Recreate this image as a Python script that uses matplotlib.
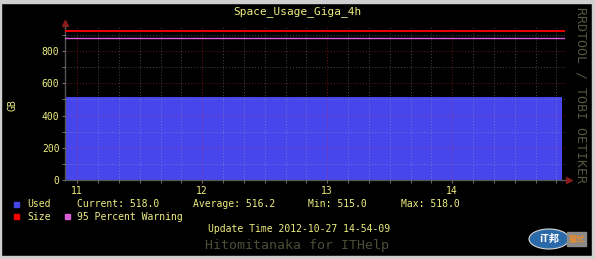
import matplotlib
matplotlib.use("Agg")
import matplotlib.pyplot as plt
from matplotlib.patches import Rectangle, Ellipse
import numpy as np

# ---- data ----
title = "Space_Usage_Giga_4h"
start_time = "10:54:09"
used_times = ["10:54:09", "11:43:00", "14:52:40"]
used_values = [515.0, 518.0, 518.0]
size_value = 927.0
warning_value = 881.0
x_tick_hours = [11, 12, 13, 14]
x_tick_labels = ["11", "12", "13", "14"]
y_ticks = [0, 200, 400, 600, 800]
legend_stats = {"Current": "518.0", "Average": "516.2", "Min": "515.0", "Max": "518.0"}
update_text = "Update Time 2012-10-27 14-54-09"
footer_text = "Hitomitanaka for ITHelp"
watermark = "RRDTOOL / TOBI OETIKER"


def to_hours(s):
    h, m, sec = [int(v) for v in s.split(":")]
    return h + m / 60 + sec / 3600


t = np.array([to_hours(s) for s in used_times])
t0 = to_hours(start_time)

W, H = 595, 259
BLUE = "#4646EC"
RED = "#FF0000"
MAG = "#D55ED5"
YEL = "#EEEE80"
MONO = "DejaVu Sans Mono"

fig = plt.figure(figsize=(W / 100, H / 100), dpi=100, facecolor="black")


def fx(x):
    return x / W


def fy(y):
    return 1 - y / H


ax = fig.add_axes([fx(65), fy(180), 500 / W, 153 / H])
ax.set_facecolor("black")
ax.fill_between(t, used_values, step="post", color=BLUE, lw=0, zorder=1)
ax.axhline(size_value, color=RED, lw=1.3, zorder=3)
ax.axhline(warning_value, color=MAG, lw=1.0, zorder=3)

ax.set_xlim(t0, t0 + 4)
ax.set_ylim(0, 950)
ax.set_xticks(x_tick_hours)
ax.set_xticklabels(x_tick_labels)
ax.set_xticks(np.arange(11, 15, 1 / 6), minor=True)
ax.set_yticks(y_ticks)
ax.set_yticks([100, 300, 500, 700, 900], minor=True)
ax.set_axisbelow(False)
ax.grid(which="major", color="#FF2a2a", alpha=0.45, ls=(0, (1, 2)), lw=0.7)
ax.grid(which="minor", color="#B0B0B0", alpha=0.4, ls=(0, (1, 2)), lw=0.7)
ax.tick_params(which="both", colors="#808080", length=2, width=0.6, pad=2,
               labelcolor=YEL, labelsize=7)
for lab in ax.get_xticklabels() + ax.get_yticklabels():
    lab.set_family(MONO)
for s in ["top", "right"]:
    ax.spines[s].set_visible(False)
for s in ["left", "bottom"]:
    ax.spines[s].set_color("#555555")
    ax.spines[s].set_linewidth(1.0)
ax.plot([0], [1.025], marker="^", color="#8B1A1A", ms=4, transform=ax.transAxes, clip_on=False)
ax.plot([1.008], [0], marker=">", color="#8B1A1A", ms=4, transform=ax.transAxes, clip_on=False)

fig.text(fx(12), fy(105), "GB", color=YEL, fontsize=7, family=MONO, rotation=90,
         ha="center", va="center")

fig.text(fx(297), fy(12), title, color=YEL, fontsize=8, family=MONO, ha="center", va="center")
fig.text(fx(581), fy(95), watermark, color="#55553f", fontsize=9.5, family=MONO,
         rotation=-90, ha="center", va="center")

def square(x, y, c):
    fig.patches.append(Rectangle((fx(x), fy(y + 5)), 5 / W, 5 / H, color=c,
                                 transform=fig.transFigure, figure=fig))

square(14, 201.5, BLUE)
square(14, 214, RED)
square(65, 214, MAG)

r1, r2 = 204, 216.5
fig.text(fx(27), fy(r1), "Used", color=YEL, fontsize=7, family=MONO, va="center")
fig.text(fx(77), fy(r1), "Current: " + legend_stats["Current"], color=YEL, fontsize=7, family=MONO, va="center")
fig.text(fx(193), fy(r1), "Average: " + legend_stats["Average"], color=YEL, fontsize=7, family=MONO, va="center")
fig.text(fx(308), fy(r1), "Min: " + legend_stats["Min"], color=YEL, fontsize=7, family=MONO, va="center")
fig.text(fx(401), fy(r1), "Max: " + legend_stats["Max"], color=YEL, fontsize=7, family=MONO, va="center")
fig.text(fx(27), fy(r2), "Size", color=YEL, fontsize=7, family=MONO, va="center")
fig.text(fx(77), fy(r2), "95 Percent Warning", color=YEL, fontsize=7, family=MONO, va="center")
fig.text(fx(299), fy(229), update_text, color=YEL, fontsize=7, family=MONO, ha="center", va="center")
fig.text(fx(297), fy(245.5), footer_text, color="#4d4d36", fontsize=9.5, family=MONO, ha="center", va="center")

# logo approximation
fig.patches.append(Ellipse((fx(549), fy(239)), 40 / W, 20 / H, color="#2a6aa8",
                           transform=fig.transFigure, figure=fig, ec="#d8d8d8", lw=0.8))
fig.text(fx(549), fy(239), "iT邦", color="white", fontsize=7.5, weight="bold", style="italic",
         family=["Noto Sans CJK TC", "DejaVu Sans"], ha="center", va="center")
fig.patches.append(Rectangle((fx(567), fy(246)), 19 / W, 14 / H, color="#8a8a8a",
                             transform=fig.transFigure, figure=fig))
fig.text(fx(576.5), fy(239), "幫忙", color="#f08a20", fontsize=6, weight="bold",
         family=["Noto Sans CJK TC", "DejaVu Sans"], ha="center", va="center")

# outer frame
fc = "#cfcfcf"
fig.patches.append(Rectangle((0, 0), 1, 3 / H, color=fc, transform=fig.transFigure, figure=fig))
fig.patches.append(Rectangle((0, 1 - 3 / H), 1, 3 / H, color=fc, transform=fig.transFigure, figure=fig))
fig.patches.append(Rectangle((1 - 3 / W, 0), 3 / W, 1, color=fc, transform=fig.transFigure, figure=fig))
fig.patches.append(Rectangle((0, 0), 1 / W, 1, color=fc, transform=fig.transFigure, figure=fig))

fig.savefig("out.png", dpi=100, facecolor="black")
